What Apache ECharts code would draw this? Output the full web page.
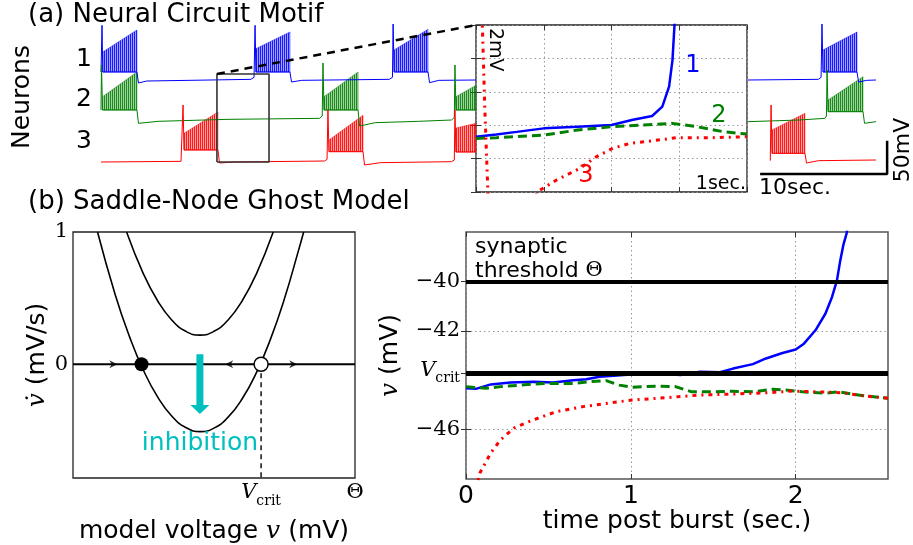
<!DOCTYPE html>
<html lang="en">
<head>
<meta charset="UTF-8">
<title>Neural circuit motif</title>
<script src="https://cdn.jsdelivr.net/npm/echarts@6/dist/echarts.min.js"></script>
<style>html,body{margin:0;padding:0;background:#fff}</style>
</head>
<body>
<div id="main" style="width:913px;height:545px;"></div>
<script>
// ---- panel (a): traces, time in sec, voltage in mV (each neuron shifted to its own row)
var trace1 = [[0.0,162],[0.05,165],[0.08,232],[0.14,162],[2.83,162],[2.95,145.5],[3.6,148.5],[7,149.5],[11.8,151],[12.05,154],[12.13,232],[12.2,162],[14.88,162],[15.0,147],[15.8,149.5],[22.7,151],[22.95,154],[23.0,234],[23.08,162],[25.75,162],[25.87,146],[26.6,149.5],[29.53,150],[29.6,null],[50.94,150],[56.5,151],[56.7,154],[56.77,234],[56.85,162],[59.53,162],[59.65,147],[60.3,149.5],[61.02,150]];
var trace2 = [[0.0,105],[0.04,172.5],[0.12,105],[2.83,105],[2.95,85],[4.5,88],[10,91],[17.2,92.5],[17.42,96],[17.48,175.5],[17.56,105],[20.24,105],[20.36,81],[21.6,86],[25,88],[27.6,90],[27.82,94],[27.87,172.5],[27.95,105],[29.53,105],[29.6,null],[50.94,87.5],[55,90],[57.0,92.5],[57.12,96],[57.17,165],[57.25,102.5],[60.0,102.5],[60.12,85],[61.02,87.5]];
var trace3 = [[0.0,27],[6.3,28],[6.42,31],[6.46,112.5],[6.54,45],[9.21,45],[9.33,25.5],[10.5,27],[17.6,28.5],[17.8,31],[17.87,105],[17.95,42.5],[20.63,42.5],[20.75,22.5],[22,26],[27.6,27.5],[27.82,30],[27.87,105],[27.95,42],[29.53,42],[29.6,null],[52.7,29],[52.76,112.5],[52.84,40],[55.43,40],[55.55,25.5],[56.5,29],[61.02,30]];
// bursts: [start, end, envelope top at start, envelope top at end, envelope bottom]
var bursts1 = [[0.14,2.83,192,225,162],[12.2,14.88,197,222,162],[23.08,25.75,195,226,162],[56.85,59.53,195,222,162]];
var bursts2 = [[0.12,2.83,125,162,105],[17.56,20.24,125,162,105],[27.95,29.53,125,142,105],[57.25,60.0,120,155,102.5]];
var bursts3 = [[6.54,9.21,70,102,45],[17.95,20.63,60,97,42.5],[27.95,29.53,78,85,42],[52.84,55.43,75,100,40]];
var zoomBox = [9.13, 13.23, 27, 159];          // t0, t1, low, high
var zoomTarget = [29.53, 232.5];               // corner of the inset
var barCorner = [61.9, 9], barTime = 10, barVolt = 50;

// ---- inset (4 sec window)
var inset1 = [[0,-44.69],[0.3,-44.55],[0.6,-44.4],[1.0,-44.19],[1.5,-44.09],[2.0,-43.99],[2.3,-43.69],[2.6,-43.45],[2.75,-42.89],[2.85,-41.69],[2.9,-40.1],[2.93,-38],[2.95,-37]];
var inset2 = [[0,-44.79],[0.3,-44.75],[1.0,-44.59],[1.5,-44.29],[2.0,-44.09],[2.47,-43.99],[2.9,-43.89],[3.26,-44.09],[3.65,-44.39],[4.0,-44.53]];
var inset3 = [[0.09,-37.5],[0.13,-43],[0.18,-48.5],[0.22,-49],[0.85,-49],[0.9,-48],[1.19,-47.28],[1.535,-46.58],[1.78,-45.88],[2.02,-45.38],[2.27,-45.09],[2.51,-44.98],[2.96,-44.75],[3.45,-44.75],[4.0,-44.69]];

// ---- panel (b) left: phase line
var upperCurve = [[1.9,1.0],[2.5,0.682],[3.0,0.48],[3.5,0.335],[4.0,0.249],[4.5,0.22],[5.0,0.249],[5.5,0.335],[6.0,0.48],[6.5,0.682],[7.1,1.0]];
var lowerCurve = [[0.87,1.0],[1.5,0.524],[2.0,0.211],[2.5,-0.047],[3.0,-0.247],[3.5,-0.391],[4.0,-0.478],[4.52,-0.509],[5.0,-0.483],[5.5,-0.40],[6.0,-0.261],[6.5,-0.065],[7.0,0.188],[7.5,0.497],[8.0,0.863],[8.18,1.0]];
var stableU = 2.43, vcritU = 6.67, thetaU = 10;
var flowArrows = [[1.43, 0], [5.54, 180], [7.81, 0]];  // position, rotation
var inhibArrow = [4.5, 0.075, -0.316, -0.342];       // x, shaft top, shaft bottom, head

// ---- panel (b) right: voltage after burst
var vcrit = -43.7, theta = -40;
var post1 = [[0,-44.33],[0.06,-44.35],[0.15,-44.17],[0.27,-44.09],[0.41,-44.06],[0.53,-44.09],[0.65,-44.0],[0.73,-43.96],[0.81,-43.86],[1.0,-43.77],[1.2,-43.74],[1.3,-43.79],[1.42,-43.66],[1.54,-43.68],[1.62,-43.53],[1.74,-43.35],[1.82,-43.12],[1.92,-42.9],[2.0,-42.76],[2.05,-42.52],[2.12,-41.98],[2.18,-41.31],[2.22,-40.64],[2.25,-39.97],[2.27,-39.17],[2.29,-38.5],[2.31,-38.03],[2.32,-37.5]];
var post2 = [[0,-44.26],[0.12,-44.33],[0.21,-44.26],[0.33,-44.2],[0.47,-44.13],[0.65,-44.13],[0.75,-44.06],[0.85,-44.02],[0.93,-44.2],[1.01,-44.29],[1.15,-44.24],[1.27,-44.26],[1.37,-44.47],[1.49,-44.47],[1.61,-44.45],[1.74,-44.47],[1.86,-44.37],[1.94,-44.4],[2.04,-44.47],[2.18,-44.53],[2.26,-44.47],[2.38,-44.6],[2.56,-44.73]];
var post3 = [[0.06,-48.4],[0.085,-47.75],[0.15,-46.95],[0.21,-46.41],[0.29,-45.94],[0.41,-45.6],[0.55,-45.27],[0.71,-45.07],[0.85,-44.94],[1.01,-44.8],[1.21,-44.71],[1.42,-44.6],[1.62,-44.56],[1.82,-44.51],[1.98,-44.44],[2.14,-44.47],[2.28,-44.51],[2.42,-44.64],[2.56,-44.73]];
var postTicksX = [0, 1, 2];
var postTicksY = [-46, vcrit, -42, -40];

var BLUE = '#0000ff', GREEN = '#008000', RED = '#ff0000', CYAN = '#00bfbf';
var SANS = '"DejaVu Sans"', SERIF = '"DejaVu Serif"';

var chart = echarts.init(document.getElementById('main'));

// vertical stripe pattern standing in for the dense spikes of a burst
function stripes(color) {
    var c = document.createElement('canvas');
    c.width = 2; c.height = 4;
    var ctx = c.getContext('2d');
    ctx.fillStyle = color;
    ctx.globalAlpha = 0.4;
    ctx.fillRect(0, 0, 2, 4);
    ctx.globalAlpha = 1;
    ctx.fillRect(0, 0, 1, 4);
    return c;
}

function burstSeries(data, color) {
    var pat = {image: stripes(color), repeat: 'repeat'};
    return {
        type: 'custom', xAxisIndex: 0, yAxisIndex: 0, data: data, silent: true, z: 3,
        renderItem: function (params, api) {
            var t0 = api.value(0), t1 = api.value(1), lo = api.value(4);
            return {
                type: 'polygon',
                shape: {points: [api.coord([t0, lo]), api.coord([t0, api.value(2)]), api.coord([t1, api.value(3)]), api.coord([t1, lo])]},
                style: {fill: pat, stroke: color, lineWidth: 0.5, opacity: 0.9}
            };
        }
    };
}

function line(data, color, width, type, xi, yi, extra) {
    var s = {
        type: 'line', data: data, xAxisIndex: xi, yAxisIndex: yi, showSymbol: false, symbol: 'none',
        lineStyle: {color: color, width: width, type: type || 'solid'}, silent: true, animation: false
    };
    for (var k in extra) s[k] = extra[k];
    return s;
}

var mathRich = {
    v: {fontFamily: SERIF, fontStyle: 'italic', fontSize: 21, padding: [0, 0, 5, 0], verticalAlign: 'bottom', color: '#000'},
    sub: {fontFamily: SERIF, fontSize: 14, verticalAlign: 'bottom', color: '#000'},
    th: {fontFamily: SERIF, fontSize: 21, color: '#000'}
};
var nameRich = {i: {fontFamily: SERIF, fontStyle: 'italic', fontSize: 25, color: '#000'}};
var tickOnly = {axisLine: {show: false}, axisLabel: {show: false}, splitLine: {show: false},
    axisTick: {inside: true, length: 5, lineStyle: {color: '#333'}}};
var dotted = {show: true, lineStyle: {color: '#999', width: 1, type: [1.5, 3]}};

function merge(a, b) { var o = {}; for (var k in a) o[k] = a[k]; for (var j in b) o[j] = b[j]; return o; }

var option = {
    animation: false,
    backgroundColor: '#fff',
    grid: [
        {left: 101, top: 20, width: 794, height: 160},
        {left: 476, top: 25, width: 271, height: 167, show: true, borderColor: '#222', borderWidth: 1.3},
        {left: 73, top: 232, width: 282, height: 247, show: true, borderColor: '#222', borderWidth: 1.3},
        {left: 466, top: 232, width: 422, height: 247, show: true, borderColor: '#555', borderWidth: 1.5}
    ],
    xAxis: [
        {gridIndex: 0, type: 'value', min: 0, max: 794 / 12.7, show: false},
        merge(tickOnly, {gridIndex: 1, type: 'value', min: 0, max: 4, interval: 1, splitLine: dotted}),
        merge(tickOnly, {gridIndex: 1, type: 'value', min: 0, max: 4, interval: 1, position: 'top'}),
        {gridIndex: 2, type: 'value', min: 0, max: thetaU, axisLine: {show: false}, axisTick: {show: false}, splitLine: {show: false},
            axisLabel: {customValues: [vcritU, thetaU], margin: 4, rich: mathRich,
                formatter: function (v) { return v === thetaU ? '{th|Θ}' : '{v|V}{sub|crit}'; }},
            name: 'model voltage {i|v} (mV)', nameLocation: 'middle', nameGap: 41, nameMoveOverlap: false,
            nameTextStyle: {fontFamily: SANS, fontSize: 25, color: '#000', rich: nameRich}},
        {gridIndex: 3, type: 'value', min: 0, max: 2.56, axisLine: {show: false},
            axisTick: {customValues: postTicksX, inside: true, length: 5, lineStyle: {color: '#333'}},
            axisLabel: {customValues: postTicksX, fontFamily: SANS, fontSize: 25, color: '#000', margin: 5},
            splitLine: dotted,
            name: 'time post burst (sec.)', nameLocation: 'middle', nameGap: 30, nameMoveOverlap: false,
            nameTextStyle: {fontFamily: SANS, fontSize: 25, color: '#000'}},
        merge(tickOnly, {gridIndex: 3, type: 'value', min: 0, max: 2.56, position: 'top',
            axisTick: {customValues: postTicksX, inside: true, length: 5, lineStyle: {color: '#333'}}})
    ],
    yAxis: [
        {gridIndex: 0, type: 'value', min: 0, max: 240, show: false},
        merge(tickOnly, {gridIndex: 1, type: 'value', min: -48, max: -38, interval: 2, splitLine: dotted}),
        merge(tickOnly, {gridIndex: 1, type: 'value', min: -48, max: -38, interval: 2, position: 'right'}),
        {gridIndex: 2, type: 'value', min: -0.86, max: 1, axisLine: {show: false}, axisTick: {show: false}, splitLine: {show: false},
            axisLabel: {customValues: [0, 1], fontFamily: SERIF, fontSize: 21, color: '#000', margin: 5}},
        {gridIndex: 3, type: 'value', min: -48, max: -38, axisLine: {show: false},
            axisTick: {customValues: postTicksY, inside: true, length: 5, lineStyle: {color: '#333'}},
            axisLabel: {customValues: postTicksY, margin: 6, fontFamily: SERIF, fontSize: 21, color: '#000', rich: mathRich,
                formatter: function (v) { return v === vcrit ? '{v|V}{sub|crit}' : '\u2212' + Math.abs(v); }},
            splitLine: dotted,
            name: '{i|v} (mV)', nameLocation: 'middle', nameGap: 63, nameMoveOverlap: false,
            nameTextStyle: {fontFamily: SANS, fontSize: 25, color: '#000', rich: nameRich}},
        merge(tickOnly, {gridIndex: 3, type: 'value', min: -48, max: -38, position: 'right',
            axisTick: {customValues: postTicksY, inside: true, length: 5, lineStyle: {color: '#333'}}})
    ],
    series: [
        // panel (a)
        burstSeries(bursts1, BLUE),
        burstSeries(bursts2, GREEN),
        burstSeries(bursts3, RED),
        line(trace1, BLUE, 1, null, 0, 0, {clip: false}),
        line(trace2, GREEN, 1, null, 0, 0, {clip: false}),
        line(trace3, RED, 1, null, 0, 0, {clip: false}),
        line([[zoomBox[0], zoomBox[2]], [zoomBox[0], zoomBox[3]], [zoomBox[1], zoomBox[3]], [zoomBox[1], zoomBox[2]], [zoomBox[0], zoomBox[2]]],
            '#333', 1.6, null, 0, 0, {clip: false, z: 4}),
        line([[zoomBox[0], zoomBox[3]], zoomTarget], '#000', 2.5, [8, 6], 0, 0, {clip: false, z: 4}),
        line([[barCorner[0] - barTime, barCorner[1]], barCorner, [barCorner[0], barCorner[1] + barVolt]], '#000', 2.5, null, 0, 0, {clip: false}),
        // inset
        line(inset1, BLUE, 2.5, null, 1, 1),
        line(inset2, GREEN, 3, [9, 5], 1, 1),
        line(inset3, RED, 3, [4, 5, 2, 5], 1, 1),
        // panel (b) left
        line([[0, 0], [thetaU, 0]], '#000', 2, null, 3, 3),
        line(upperCurve, '#000', 1.6, null, 3, 3, {smooth: true}),
        line(lowerCurve, '#000', 1.6, null, 3, 3, {smooth: true}),
        line([[vcritU, 0], [vcritU, -0.86]], '#000', 1.4, [5, 4], 3, 3),
        line([[inhibArrow[0], inhibArrow[1]], [inhibArrow[0], inhibArrow[2]]], CYAN, 7, null, 3, 3),
        {type: 'scatter', xAxisIndex: 3, yAxisIndex: 3, data: [[inhibArrow[0], inhibArrow[3]]], silent: true,
            symbol: 'path://M0,0L18,0L9,8Z', symbolSize: [19, 9], itemStyle: {color: CYAN, opacity: 1}},
        {type: 'scatter', xAxisIndex: 3, yAxisIndex: 3, silent: true, symbol: 'path://M0,0L10,5L0,10L3,5Z', symbolSize: 8,
            itemStyle: {color: '#333', opacity: 1},
            data: flowArrows.map(function (a) { return {value: [a[0], 0], symbolRotate: a[1]}; })},
        {type: 'scatter', xAxisIndex: 3, yAxisIndex: 3, silent: true, data: [[stableU, 0]], symbolSize: 14, z: 5,
            itemStyle: {color: '#000', opacity: 1}},
        {type: 'scatter', xAxisIndex: 3, yAxisIndex: 3, silent: true, data: [[vcritU, 0]], symbolSize: 14, z: 5,
            itemStyle: {color: '#fff', borderColor: '#000', borderWidth: 1.5, opacity: 1}},
        // panel (b) right
        line(post1, BLUE, 2.5, null, 4, 4, {
            markLine: {silent: true, symbol: 'none', label: {show: false},
                lineStyle: {color: '#000', type: 'solid'},
                data: [{yAxis: theta, lineStyle: {width: 4}}, {yAxis: vcrit, lineStyle: {width: 5}}]}
        }),
        line(post2, GREEN, 3, [9, 5], 4, 4),
        line(post3, RED, 3, [4, 5, 2, 5], 4, 4)
    ],
    graphic: [
        txt('(a) Neural Circuit Motif', 28, 15, 26, '#000', 'left'),
        txt('(b) Saddle-Node Ghost Model', 28, 202, 26, '#000', 'left'),
        txt('Neurons', 22, 97, 25, '#000', 'center', Math.PI / 2),
        txt('1', 84, 59, 25, '#000'),
        txt('2', 84, 99, 25, '#000'),
        txt('3', 84, 141, 25, '#000'),
        txt('1', 693, 66, 24, BLUE),
        txt('2', 719, 116, 24, GREEN),
        txt('3', 586, 176, 24, RED),
        txt('2mV', 495, 28, 19, '#000', 'left', -Math.PI / 2),
        txt('1sec.', 746, 184, 19, '#000', 'right'),
        txt('10sec.', 795, 188, 22, '#000'),
        txt('50mV', 903, 150, 22, '#000', 'center', Math.PI / 2),
        txt('inhibition', 200, 443, 25, CYAN),
        // y label of the phase plot
        {type: 'text', x: 37, y: 355, rotation: Math.PI / 2, silent: true, z: 10,
            style: {text: '{i|v\u0307} (mV/s)', font: '25px ' + SANS, fill: '#000', rich: nameRich,
                align: 'center', textAlign: 'center', verticalAlign: 'middle', textVerticalAlign: 'middle'}},
        {type: 'text', x: 475, y: 235, silent: true, z: 10,
            style: {text: 'synaptic\nthreshold {th|Θ}', font: '22px ' + SANS, fill: '#000', lineHeight: 24,
                rich: {th: {fontFamily: SERIF, fontSize: 21, lineHeight: 24}}}}
    ]
};

function txt(s, x, y, size, color, align, rot) {
    return {type: 'text', x: x, y: y, rotation: rot || 0, silent: true, z: 10,
        style: {text: s, font: size + 'px ' + SANS, fill: color,
            align: align || 'center', textAlign: align || 'center', verticalAlign: 'middle', textVerticalAlign: 'middle'}};
}

chart.setOption(option);
</script>
</body>
</html>
